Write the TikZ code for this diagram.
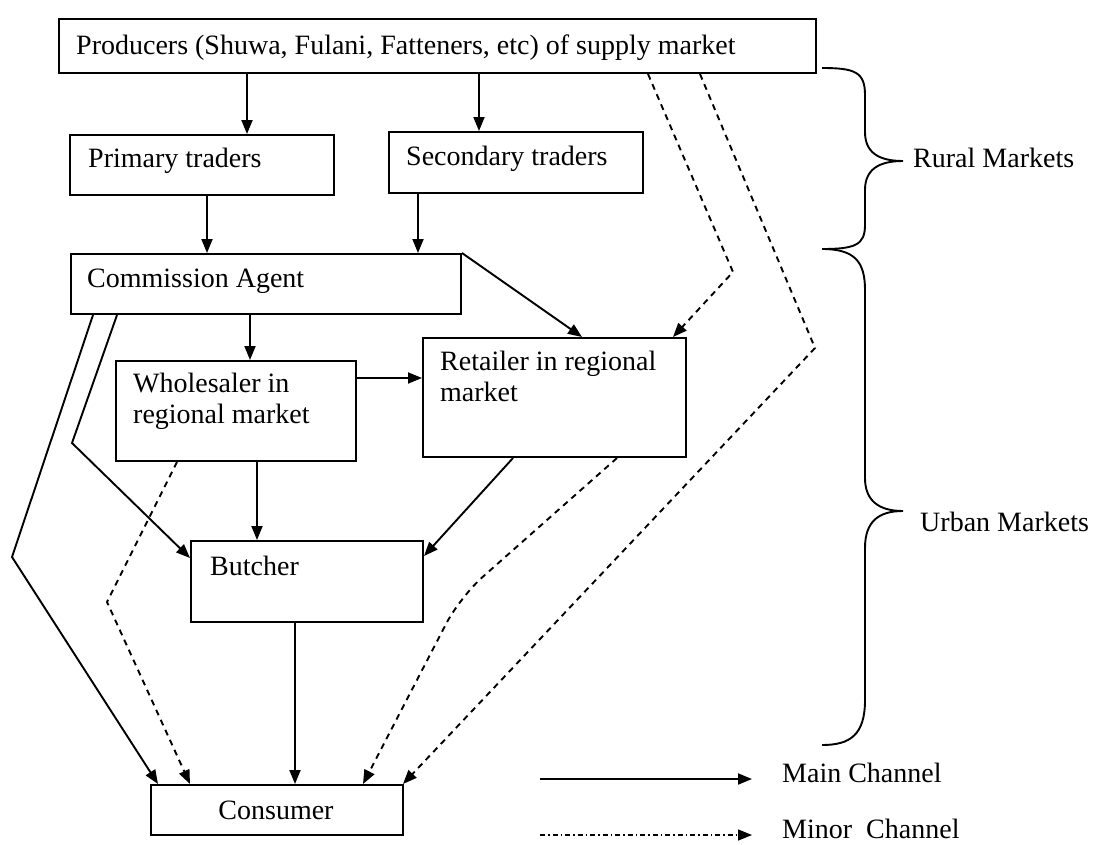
\documentclass[tikz,border=0pt]{standalone}
\usepackage{fontspec}
\setmainfont{Liberation Serif}
\usetikzlibrary{arrows.meta}
\begin{document}
\begin{tikzpicture}[x=1pt,y=-1pt,
  box/.style={draw, line width=2pt, anchor=north west, inner sep=0pt},
  lbl/.style={font=\fontsize{28}{31}\selectfont, inner sep=0pt, anchor=base west},
  lbltwo/.style={font=\fontsize{28}{31}\selectfont, inner sep=0pt, anchor=north west, align=left},
  mainarrow/.style={line width=1.9pt, -{Triangle[length=14pt,width=11pt]}},
  minorarrow/.style={line width=1.9pt, dash pattern=on 6pt off 5pt, -{Triangle[length=14pt,width=11pt]}},
  bracepath/.style={line width=1.9pt},
]
\useasboundingbox (0,0) rectangle (1094,844);
\fill[white] (0,0) rectangle (1094,844);

% boxes
\node[box, minimum width=757pt, minimum height=54pt] (prod) at (58,18) {};
\node[box, minimum width=264pt, minimum height=60pt] (prim) at (69,134) {};
\node[box, minimum width=254pt, minimum height=61pt] (sec) at (388,131) {};
\node[box, minimum width=390pt, minimum height=60pt] (ca) at (70,253) {};
\node[box, minimum width=240pt, minimum height=100pt] (whole) at (115,360) {};
\node[box, minimum width=263pt, minimum height=119pt] (ret) at (422,337) {};
\node[box, minimum width=232pt, minimum height=81pt] (butch) at (190,540) {};
\node[box, minimum width=252pt, minimum height=50pt] (cons) at (150,784) {};

% texts
\node[lbl] (tprod) at (76,54) {Producers (Shuwa, Fulani, Fatteners, etc) of supply market};
\node[lbl] (tprim) at (88,167) {Primary traders};
\node[lbl] (tsec) at (406,165) {Secondary traders};
\node[lbl] (tca) at (87,287) {Commission Agent};
\node[lbltwo] (twhole) at (133,373) {Wholesaler in\\regional market};
\node[lbltwo] (tret) at (440,351) {Retailer in regional\\market};
\node[lbl] (tbutch) at (210,575) {Butcher};
\node[lbl, anchor=base] (tcons) at (276,819) {Consumer};

% helper coordinates
\coordinate (x247) at (247,0);
\coordinate (x479) at (479,0);
\coordinate (x207) at (207,0);
\coordinate (x418) at (418,0);
\coordinate (x582) at (582,0);
\coordinate (x250) at (250,0);
\coordinate (y378) at (0,378);
\coordinate (x257) at (257,0);
\coordinate (x513) at (513,0);
\coordinate (y556) at (0,556);
\coordinate (x93) at (93,0);
\coordinate (x158) at (158,0);
\coordinate (x117) at (117,0);
\coordinate (y558) at (0,558);
\coordinate (x177) at (177,0);
\coordinate (x190) at (190,0);
\coordinate (x295) at (295,0);
\coordinate (x617) at (617,0);
\coordinate (x363) at (363,0);
\coordinate (x648) at (648,0);
\coordinate (x673) at (673,0);
\coordinate (x700) at (700,0);
\coordinate (x403) at (403,0);
\coordinate (b10) at (12,557);
\coordinate (b11) at (72,443);
\coordinate (b12) at (107,602);
\coordinate (b14) at (460,597);
\coordinate (b15) at (733,272);
\coordinate (b16) at (815,348);

% main channels
\draw[mainarrow] (prod.south -| x247) -- (prim.north -| x247);
\draw[mainarrow] (prod.south -| x479) -- (sec.north -| x479);
\draw[mainarrow] (prim.south -| x207) -- (ca.north -| x207);
\draw[mainarrow] (sec.south -| x418) -- (ca.north -| x418);
\draw[mainarrow] (ca.north east) -- (ret.north -| x582);
\draw[mainarrow] (ca.south -| x250) -- (whole.north -| x250);
\draw[mainarrow] (whole.east |- y378) -- (ret.west |- y378);
\draw[mainarrow] (whole.south -| x257) -- (butch.north -| x257);
\draw[mainarrow] (ret.south -| x513) -- (butch.east |- y556);
\draw[mainarrow] (ca.south -| x93) -- (b10) -- (cons.north -| x158);
\draw[mainarrow] (ca.south -| x117) -- (b11) -- (butch.west |- y558);
\draw[mainarrow] (butch.south -| x295) -- (cons.north -| x295);

% minor channels
\draw[minorarrow] (whole.south -| x177) -- (b12) -- (cons.north -| x190);
\draw[minorarrow, rounded corners=30pt] (ret.south -| x617) -- (b14) -- (cons.north -| x363);
\draw[minorarrow] (prod.south -| x648) -- (b15) -- (ret.north -| x673);
\draw[minorarrow] (prod.south -| x700) -- (b16) -- (cons.north -| x403);

% braces
\draw[bracepath] (822,68) .. controls (855,68) and (865,72) .. (865,95) -- (865,132)
  .. controls (865,152) and (878,161) .. (903,161)
  .. controls (878,161) and (865,170) .. (865,190) -- (865,225)
  .. controls (865,245) and (855,249) .. (822,249);
\draw[bracepath] (822,249) .. controls (855,249) and (865,262) .. (865,290) -- (865,478)
  .. controls (865,500) and (878,511) .. (903,511)
  .. controls (878,511) and (865,522) .. (865,548) -- (865,700)
  .. controls (865,735) and (850,745) .. (822,745);
\node[lbl, anchor=west] (trural) at (913,158) {Rural Markets};
\node[lbl, anchor=west] (turban) at (920,522) {Urban Markets};

% legend
\coordinate (lm1) at (540,779);
\coordinate (lm2) at (752,779);
\coordinate (ln1) at (540,835);
\coordinate (ln2) at (752,835);
\draw[mainarrow] (lm1) -- (lm2);
\draw[line width=1.5pt, dash pattern=on 5pt off 3pt on 1.5pt off 3pt, -{Triangle[length=14pt,width=11pt]}] (ln1) -- (ln2);
\node[lbl, anchor=west] (tmain) at (782,773) {Main Channel};
\node[lbl, anchor=west] (tminor) at (782,829) {Minor~ Channel};
\end{tikzpicture}
\end{document}
